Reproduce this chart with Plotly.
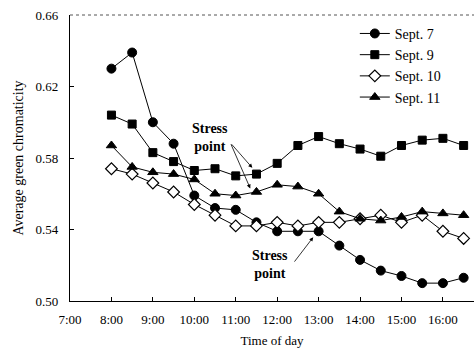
import plotly.graph_objects as go

hours = [8, 8.5, 9, 9.5, 10, 10.5, 11, 11.5, 12, 12.5, 13, 13.5, 14, 14.5, 15, 15.5, 16, 16.5]
sept7 = [0.630, 0.639, 0.600, 0.588, 0.559, 0.552, 0.551, 0.544, 0.539, 0.539, 0.539, 0.531, 0.523, 0.517, 0.514, 0.510, 0.510, 0.513]
sept9 = [0.604, 0.599, 0.583, 0.578, 0.573, 0.574, 0.570, 0.571, 0.577, 0.587, 0.592, 0.588, 0.585, 0.581, 0.587, 0.590, 0.591, 0.587]
sept10 = [0.574, 0.571, 0.566, 0.561, 0.554, 0.548, 0.542, 0.542, 0.544, 0.542, 0.544, 0.544, 0.546, 0.548, 0.544, 0.548, 0.539, 0.535]
sept11 = [0.587, 0.575, 0.572, 0.571, 0.568, 0.560, 0.559, 0.561, 0.565, 0.564, 0.560, 0.550, 0.546, 0.545, 0.547, 0.550, 0.549, 0.548]

series_names = ["Sept. 7", "Sept. 9", "Sept. 10", "Sept. 11"]
x_tickvals = [7, 8, 9, 10, 11, 12, 13, 14, 15, 16]
x_ticktext = ["7:00", "8:00", "9:00", "10:00", "11:00", "12:00", "13:00", "14:00", "15:00", "16:00"]
y_tickvals = [0.50, 0.54, 0.58, 0.62, 0.66]

FONT = "Liberation Serif, Times New Roman, serif"

styles = [
    dict(symbol="circle", size=9, color="black", line=dict(color="black", width=1)),
    dict(symbol="square", size=8, color="black", line=dict(color="black", width=1)),
    dict(symbol="diamond", size=9, color="white", line=dict(color="black", width=1.2)),
    dict(symbol="triangle-up", size=9, color="black", line=dict(color="black", width=1)),
]

fig = go.Figure()
for name, vals, st in zip(series_names, [sept7, sept9, sept10, sept11], styles):
    fig.add_trace(go.Scatter(
        x=hours, y=vals, name=name, mode="lines+markers",
        line=dict(color="black", width=1),
        marker=st,
    ))

fig.update_layout(
    width=474, height=353, autosize=False,
    margin=dict(l=70, r=0, t=15, b=52, pad=0),
    plot_bgcolor="white", paper_bgcolor="white",
    font=dict(family=FONT, color="black", size=13),
    showlegend=True,
    legend=dict(x=0.705, y=0.99, xanchor="left", yanchor="top",
                bgcolor="rgba(0,0,0,0)", font=dict(size=14, family=FONT),
                itemwidth=30, tracegroupgap=0),
    xaxis=dict(range=[7, 16.75], tickvals=x_tickvals, ticktext=x_ticktext,
               ticks="inside", ticklen=4, tickcolor="black",
               showline=True, linecolor="black", linewidth=1.2,
               showgrid=False, zeroline=False, automargin=False,
               ticklabelstandoff=6,
               tickfont=dict(size=13, family=FONT),
               title=dict(text="Time of day", font=dict(size=13, family=FONT), standoff=10)),
    yaxis=dict(range=[0.50, 0.66], tickvals=y_tickvals, tickformat=".2f",
               ticks="inside", ticklen=4, tickcolor="black",
               showline=True, linecolor="black", linewidth=1.2,
               showgrid=False, zeroline=False, automargin=False,
               ticklabelstandoff=8,
               tickfont=dict(size=13, family=FONT),
               title=dict(text="Average green chromaticity", font=dict(size=14, family=FONT), standoff=8)),
)

# top border (dotted, as in the scan)
fig.add_shape(type="line", xref="paper", yref="paper", x0=0, x1=1, y0=1, y1=1,
              line=dict(color="#555555", width=1, dash="dot"))

# Stress point annotations
fig.add_annotation(x=10.39, y=0.5915, text="<b>Stress<br>point</b>", showarrow=False,
                   font=dict(size=14, family=FONT))
for hx, hy in [(11.40, 0.5745), (11.35, 0.5630)]:
    fig.add_annotation(x=hx, y=hy, ax=10.87, ay=0.5885, axref="x", ayref="y",
                       text="", showarrow=True, arrowhead=2, arrowsize=1, arrowwidth=0.8,
                       arrowcolor="black")
fig.add_annotation(x=11.83, y=0.5205, text="<b>Stress<br>point</b>", showarrow=False,
                   font=dict(size=14, family=FONT))
fig.add_annotation(x=12.87, y=0.5357, ax=12.39, ay=0.5212, axref="x", ayref="y",
                   text="", showarrow=True, arrowhead=2, arrowsize=1, arrowwidth=0.8,
                   arrowcolor="black")

fig.write_html("out.html")
